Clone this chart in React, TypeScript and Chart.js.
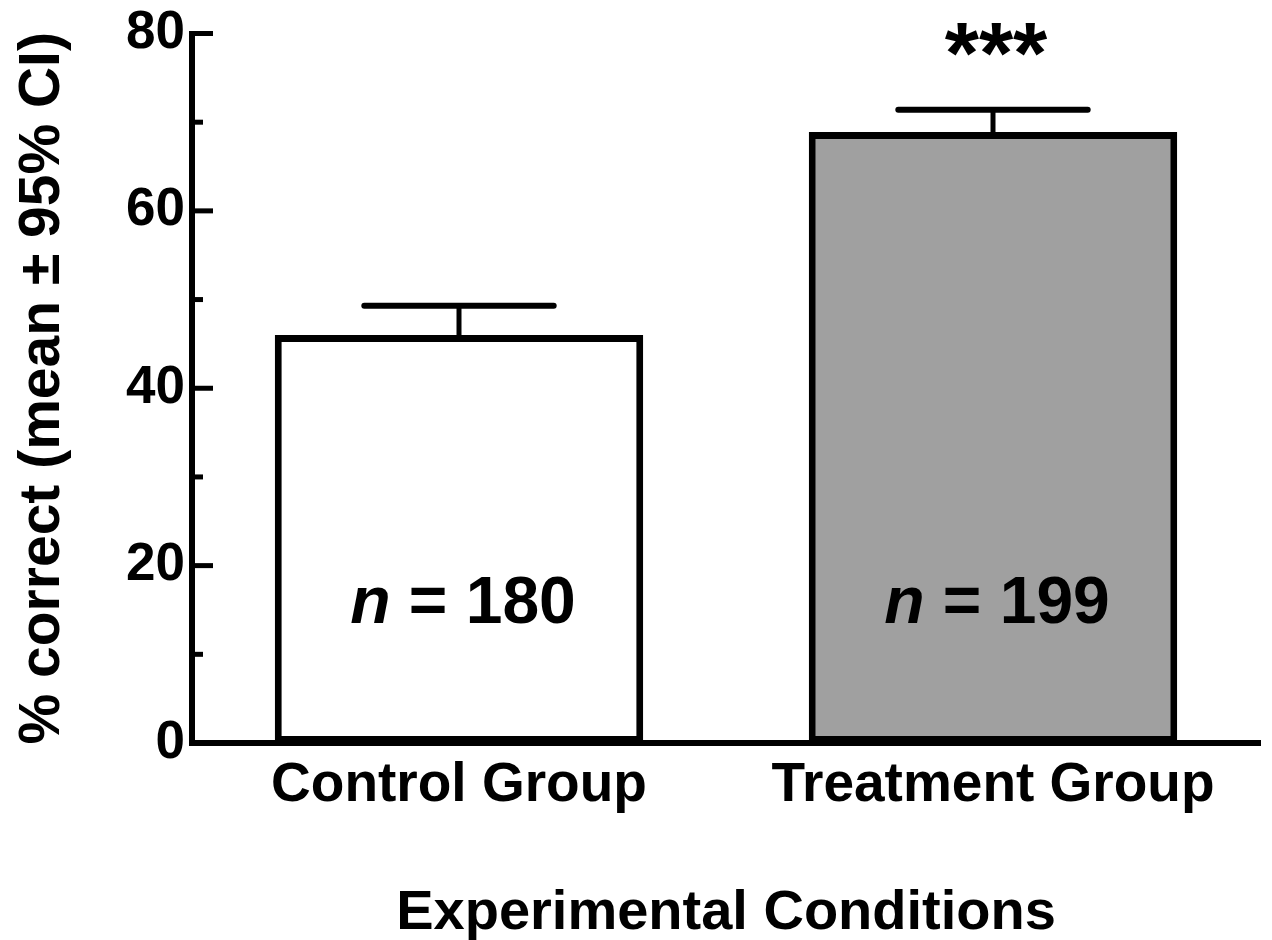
import React, { useEffect, useRef } from "react";
import { Chart, registerables } from "chart.js";

Chart.register(...registerables);

const CATEGORIES = ["Control Group", "Treatment Group"];
const MEANS = [46.0, 68.9];
const CI_UPPER = [49.3, 71.4];
const N_LABELS = ["180", "199"];
const SIG_LABELS = ["", "***"];
const MAJOR_TICKS = [0, 20, 40, 60, 80];
const MINOR_TICKS = [10, 30, 50, 70];
const BAR_COLORS = ["#ffffff", "#a0a0a0"];

const FONT = "'Liberation Sans', Arial, Helvetica, sans-serif";
const N_LABEL_VALUE = 13.5;

const overlayPlugin = {
  id: "overlay",
  afterDatasetsDraw(chart: any) {
    const ctx = chart.ctx;
    const y = chart.scales.y;
    const meta = chart.getDatasetMeta(0);
    ctx.save();
    meta.data.forEach((bar: any, i: number) => {
      const x = bar.x;
      const top = y.getPixelForValue(MEANS[i]);
      const up = y.getPixelForValue(CI_UPPER[i]);
      const capHalf = bar.width * 0.257;
      ctx.strokeStyle = "#000";
      ctx.lineWidth = 5;
      ctx.lineCap = "butt";
      ctx.beginPath();
      ctx.moveTo(x, top + 2);
      ctx.lineTo(x, up);
      ctx.stroke();
      ctx.lineWidth = 6;
      ctx.lineCap = "round";
      ctx.beginPath();
      ctx.moveTo(x - capHalf, up);
      ctx.lineTo(x + capHalf, up);
      ctx.stroke();

      // significance stars
      if (SIG_LABELS[i]) {
        ctx.fillStyle = "#000";
        ctx.font = `bold 88px ${FONT}`;
        ctx.textAlign = "center";
        ctx.textBaseline = "alphabetic";
        ctx.fillText(SIG_LABELS[i], x + 3, up - 27);
      }

      // n labels
      const base = y.getPixelForValue(N_LABEL_VALUE);
      const italicFont = `italic bold 66px ${FONT}`;
      const boldFont = `bold 66px ${FONT}`;
      ctx.font = italicFont;
      const wN = ctx.measureText("n").width;
      ctx.font = boldFont;
      const rest = " = " + N_LABELS[i];
      const wR = ctx.measureText(rest).width;
      const start = x - (wN + wR) / 2 + 4;
      ctx.textAlign = "left";
      ctx.textBaseline = "alphabetic";
      ctx.fillStyle = "#000";
      ctx.font = italicFont;
      ctx.fillText("n", start, base);
      ctx.font = boldFont;
      ctx.fillText(rest, start + wN, base);
    });
    ctx.restore();
  },
  afterDraw(chart: any) {
    const ctx = chart.ctx;
    const y = chart.scales.y;
    const left = chart.chartArea.left;
    ctx.save();
    ctx.strokeStyle = "#000";
    ctx.lineWidth = 5;
    ctx.lineCap = "butt";
    MAJOR_TICKS.forEach((v) => {
      const py = y.getPixelForValue(v);
      ctx.beginPath();
      ctx.moveTo(left, py);
      ctx.lineTo(left + 21, py);
      ctx.stroke();
    });
    MINOR_TICKS.forEach((v) => {
      const py = y.getPixelForValue(v);
      ctx.beginPath();
      ctx.moveTo(left, py);
      ctx.lineTo(left + 11, py);
      ctx.stroke();
    });
    // fill the axis corner
    ctx.fillStyle = "#000";
    ctx.fillRect(left - 3, chart.chartArea.bottom - 3, 6, 6);
    ctx.restore();
  },
};

export default function App() {
  const ref = useRef<HTMLCanvasElement | null>(null);
  useEffect(() => {
    if (!ref.current) return;
    const chart = new Chart(ref.current, {
      type: "bar",
      data: {
        labels: CATEGORIES,
        datasets: [
          {
            data: MEANS,
            backgroundColor: BAR_COLORS,
            borderColor: "#000",
            borderWidth: 7,
            borderSkipped: false,
            barPercentage: 0.69,
            categoryPercentage: 1,
          },
        ],
      },
      options: {
        responsive: false,
        animation: false,
        devicePixelRatio: 1,
        layout: { padding: { top: 30, right: 12, left: 0, bottom: 0 } },
        plugins: { legend: { display: false }, tooltip: { enabled: false } },
        scales: {
          x: {
            grid: { display: false, drawTicks: false },
            border: { display: true, width: 6, color: "#000" },
            ticks: {
              color: "#000",
              padding: 10,
              font: { family: FONT, size: 55, weight: "bold" },
            },
            title: {
              display: true,
              text: "Experimental Conditions",
              color: "#000",
              padding: { top: 0, bottom: 0 },
              font: { family: FONT, size: 56, weight: "bold", lineHeight: 0.95 },
            },
            afterFit: (s: any) => {
              s.height = 197;
            },
          },
          y: {
            min: 0,
            max: 80,
            grid: { display: false, drawTicks: false, drawOnChartArea: false },
            border: { display: true, width: 6, color: "#000" },
            afterBuildTicks: (s: any) => {
              s.ticks = MAJOR_TICKS.map((v) => ({ value: v }));
            },
            ticks: {
              color: "#000",
              padding: 7,
              font: { family: FONT, size: 53, weight: "bold", lineHeight: 1 },
            },
            title: {
              display: true,
              text: "% correct (mean ± 95% CI)",
              color: "#000",
              padding: { top: 9, bottom: 0 },
              font: { family: FONT, size: 57, weight: "bold", lineHeight: 1.2 },
            },
            afterFit: (s: any) => {
              s.width = 192;
            },
          },
        },
      },
      plugins: [overlayPlugin],
    });
    return () => chart.destroy();
  }, []);
  return (
    <div style={{ position: "fixed", left: 0, top: 0, width: 1272, height: 940, background: "#fff" }}>
      <canvas ref={ref} width={1272} height={940} />
    </div>
  );
}
